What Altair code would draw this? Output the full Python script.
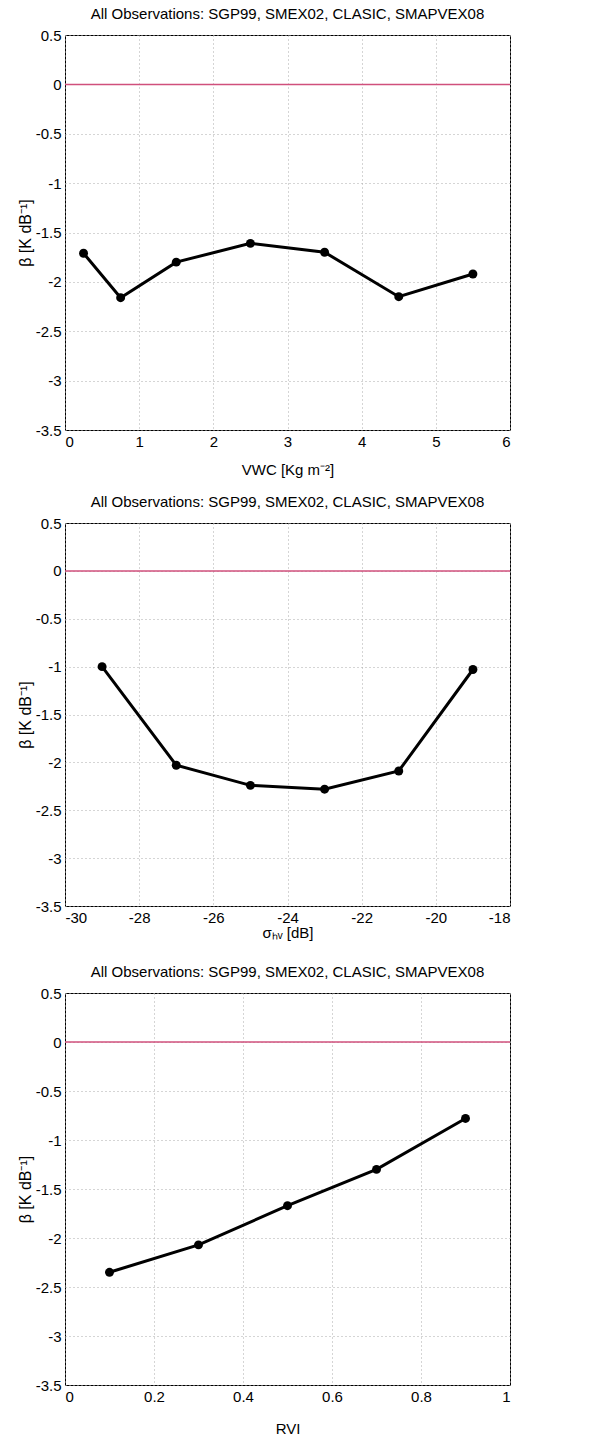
import altair as alt
import pandas as pd

TITLE = "All Observations: SGP99, SMEX02, CLASIC, SMAPVEX08"

# Panel 1: VWC
vwc_x = [0.25, 0.75, 1.5, 2.5, 3.5, 4.5, 5.5]
vwc_beta = [-1.71, -2.16, -1.80, -1.61, -1.70, -2.15, -1.92]
vwc_ticks = [0, 1, 2, 3, 4, 5, 6]

# Panel 2: sigma_hv
shv_x = [-29, -27, -25, -23, -21, -19]
shv_beta = [-1.00, -2.03, -2.24, -2.28, -2.09, -1.03]
shv_ticks = [-30, -28, -26, -24, -22, -20, -18]

# Panel 3: RVI
rvi_x = [0.1, 0.3, 0.5, 0.7, 0.9]
rvi_beta = [-2.35, -2.07, -1.67, -1.30, -0.78]
rvi_ticks = [0, 0.2, 0.4, 0.6, 0.8, 1]

y_ticks = [0.5, 0, -0.5, -1, -1.5, -2, -2.5, -3, -3.5]
zero_line = [0]

RED = "#d0507c"
FONT = "Liberation Sans"


def panel(xs, ys, xticks, xtitle, w, h, xtitle_pad):
    df = pd.DataFrame({"x": xs, "beta": ys})
    xscale = alt.Scale(domain=[xticks[0], xticks[-1]], nice=False, zero=False)
    yscale = alt.Scale(domain=[-3.5, 0.5], nice=False, zero=False)
    xaxis = alt.Axis(values=xticks, labelExpr="'' + datum.value", title=xtitle,
                     titlePadding=xtitle_pad)
    yaxis = alt.Axis(values=y_ticks, labelExpr="'' + datum.value",
                     title="β [K dB⁻¹]", titleFontSize=16, titlePadding=2)
    X = alt.X("x:Q", scale=xscale, axis=xaxis)
    Y = alt.Y("beta:Q", scale=yscale, axis=yaxis)

    zero = alt.Chart(pd.DataFrame({"beta": zero_line})).mark_rule(
        color=RED, strokeWidth=1.5).encode(y=Y)
    line = alt.Chart(df).mark_line(color="black", strokeWidth=3).encode(x=X, y=Y)
    pts = alt.Chart(df).mark_circle(color="black", size=80, opacity=1).encode(x=X, y=Y)
    return alt.layer(zero, line, pts).properties(
        width=w, height=h,
        title=alt.TitleParams(TITLE, font=FONT, fontSize=15, fontWeight="normal",
                              color="black", offset=6))


p1 = panel(vwc_x, vwc_beta, vwc_ticks, "VWC [Kg m⁻²]", 445, 395, 13)
p2 = panel(shv_x, shv_beta, shv_ticks, "σₕᵥ [dB]", 445, 383, 0)
p3 = panel(rvi_x, rvi_beta, rvi_ticks, "RVI", 445, 392, 17)

top_two = alt.vconcat(p1, p2, spacing=16)
chart = alt.vconcat(top_two, p3, spacing=23).configure(
    background="white", padding={"left": 16, "top": 6, "right": 5, "bottom": 5}
).configure_view(
    stroke="black", strokeWidth=1
).configure_axis(
    labelFont=FONT, labelFontSize=15, labelColor="black",
    titleFont=FONT, titleFontSize=15, titleFontWeight="normal", titleColor="black",
    domain=False, ticks=False, labelPadding=4,
    grid=True, gridColor="#aaaaaa", gridDash=[1, 3], gridWidth=1,
)

chart.save("out.html", embed_options={"renderer": "svg", "actions": False})
